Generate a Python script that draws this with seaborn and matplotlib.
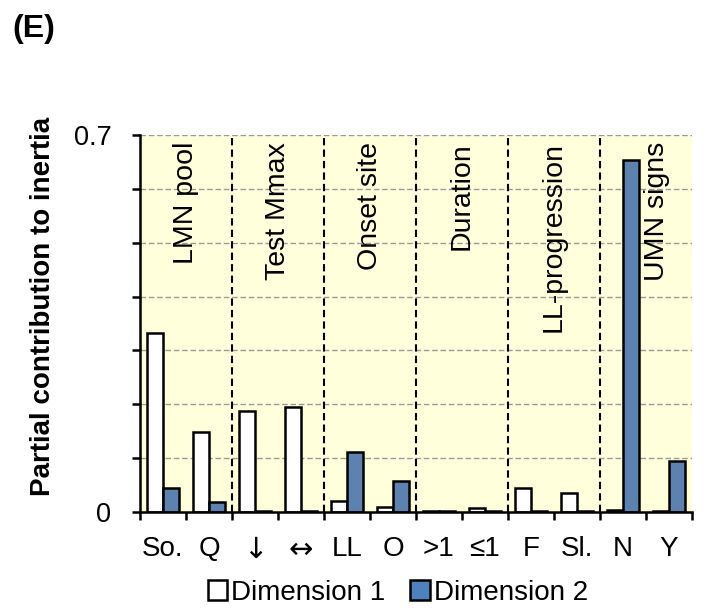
import matplotlib
matplotlib.use("Agg")
import matplotlib.pyplot as plt
from matplotlib.patches import Patch
import numpy as np
import pandas as pd
import seaborn as sns

# Categories of each variable, in display order
categories = ["So.", "Q", "\u2193", "\u2194", "LL", "O", ">1", "\u22641", "F", "Sl.", "N", "Y"]
dim1_values = [0.333, 0.148, 0.187, 0.195, 0.020, 0.010, 0.002, 0.007, 0.045, 0.036, 0.004, 0.001]
dim2_values = [0.044, 0.019, 0.002, 0.001, 0.111, 0.057, 0.001, 0.002, 0.001, 0.001, 0.653, 0.095]
group_names = ["LMN pool", "Test Mmax", "Onset site", "Duration", "LL-progression", "UMN signs"]
series_names = ["Dimension 1", "Dimension 2"]

sns.set_style("ticks")
plt.rcParams["font.family"] = ["Liberation Sans", "DejaVu Sans"]
plt.rcParams["text.color"] = "black"
plt.rcParams["axes.labelcolor"] = "black"
plt.rcParams["xtick.color"] = "black"
plt.rcParams["ytick.color"] = "black"

df = pd.DataFrame({
    "category": categories * 2,
    "dimension": [series_names[0]] * len(categories) + [series_names[1]] * len(categories),
    "value": dim1_values + dim2_values,
})

palette = {series_names[0]: "white", series_names[1]: "#4F81BD"}

fig = plt.figure(figsize=(7.08, 6.10), dpi=100)
ax = fig.add_axes([0.1977, 0.1607, 0.7797, 0.618])
ax.set_facecolor("#FFFFDC")

sns.barplot(data=df, x="category", y="value", hue="dimension", order=categories,
            hue_order=series_names, palette=palette, edgecolor="black",
            linewidth=1.8, width=0.7, gap=0, legend=False, ax=ax)

ax.set_xlim(-0.5, len(categories) - 0.5)
ax.set_ylim(0, 0.7)

# horizontal grid
for yv in np.arange(0.1, 0.71, 0.1):
    ax.axhline(yv, color="#9A9A9A", linestyle=(0, (4, 2)), linewidth=1.0, zorder=0.5)

# separators between variables
for xv in np.arange(1.5, len(categories) - 1, 2):
    ax.axvline(xv, color="black", linestyle=(0, (3.5, 2)), linewidth=1.5, zorder=0.6)

# variable names
for i, name in enumerate(group_names):
    xc = 2 * i + 0.5
    if i == len(group_names) - 1:
        xc += 0.24
    ax.text(xc, 0.687, name, rotation=90, ha="center", va="top", fontsize=20.5)

for s in ["top", "right"]:
    ax.spines[s].set_visible(False)
for s in ["left", "bottom"]:
    ax.spines[s].set_linewidth(1.8)
    ax.spines[s].set_color("black")

ax.set_yticks(np.round(np.arange(0, 0.71, 0.1), 1))
ax.set_yticklabels(["0", "", "", "", "", "", "", "0.7"])
ax.tick_params(axis="y", length=5.5, width=1.8, pad=15, labelsize=19.5, direction="out")

ax.set_xticks(range(len(categories)))
ax.set_xticklabels(categories)
ax.set_xticks(np.arange(-0.5, len(categories), 1), minor=True)
ax.tick_params(axis="x", which="major", length=0, pad=17, labelsize=20)
ax.tick_params(axis="x", which="minor", length=5.5, width=1.8, direction="out")
for lbl in ax.get_xticklabels():
    if lbl.get_text() in ("\u2193", "\u2194"):
        lbl.set_fontfamily("DejaVu Sans")
        lbl.set_fontsize(21)

ax.set_xlabel("")
ax.set_ylabel("Partial contribution to inertia", fontsize=20, fontweight="bold")
ax.yaxis.set_label_coords(-0.152, 0.544)

fig.text(0.018, 0.952, "(E)", fontsize=23, fontweight="bold", ha="left", va="center")

handles = [Patch(facecolor=palette[n], edgecolor="black", linewidth=1.8, label=n) for n in series_names]
fig.legend(handles=handles, loc="center", bbox_to_anchor=(0.562, 0.028), ncol=2,
           frameon=False, fontsize=20, handlelength=0.7, handleheight=0.7,
           handletextpad=0.15, columnspacing=0.9, borderaxespad=0)

fig.savefig("out.png", dpi=100)
